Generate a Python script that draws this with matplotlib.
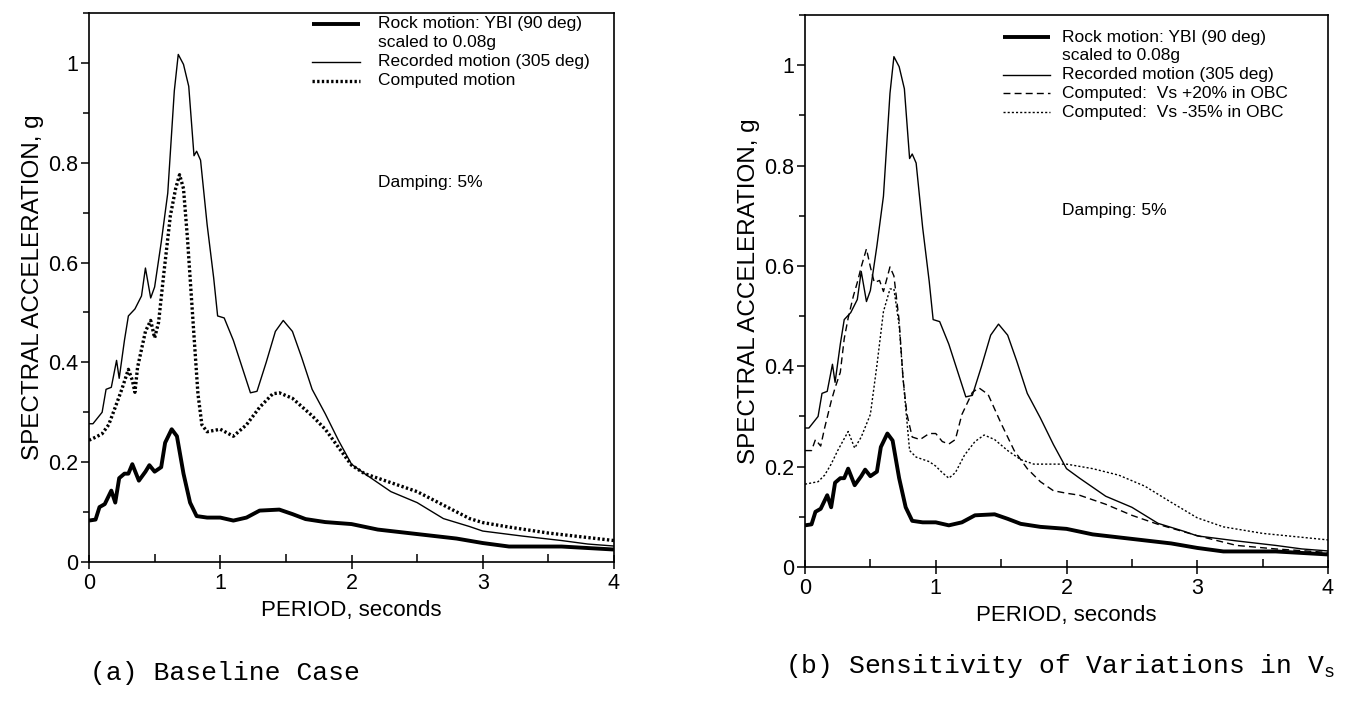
import matplotlib
matplotlib.use("Agg")
import matplotlib.pyplot as plt
from matplotlib.ticker import MultipleLocator, FixedLocator

plt.rcParams['font.family'] = ['Liberation Sans', 'DejaVu Sans']

# Rock motion: YBI (90 deg) scaled to 0.08g
rock_T = [0, 0.05, 0.08, 0.12, 0.17, 0.2, 0.23, 0.27, 0.3, 0.33, 0.38, 0.43, 0.46, 0.5,
          0.55, 0.58, 0.63, 0.67, 0.72, 0.77, 0.82, 0.9, 1.0, 1.1, 1.2, 1.3, 1.45, 1.55,
          1.65, 1.8, 2.0, 2.2, 2.5, 2.8, 3.0, 3.2, 3.6, 4.0]
rock_Sa = [0.083, 0.085, 0.11, 0.116, 0.143, 0.119, 0.168, 0.177, 0.177, 0.196, 0.163,
           0.181, 0.194, 0.181, 0.19, 0.239, 0.266, 0.252, 0.177, 0.119, 0.092, 0.089,
           0.089, 0.083, 0.089, 0.103, 0.105, 0.096, 0.086, 0.080, 0.076, 0.065, 0.056,
           0.047, 0.038, 0.031, 0.031, 0.025]

# Recorded motion (305 deg)
rec_T = [0, 0.03, 0.1, 0.13, 0.17, 0.21, 0.23, 0.27, 0.3, 0.35, 0.4, 0.43, 0.47, 0.5,
         0.55, 0.6, 0.65, 0.68, 0.72, 0.76, 0.8, 0.82, 0.85, 0.9, 0.95, 0.98, 1.03, 1.1,
         1.23, 1.28, 1.35, 1.42, 1.48, 1.55, 1.62, 1.7, 1.8, 1.9, 2.0, 2.1, 2.2, 2.3,
         2.5, 2.7, 2.9, 3.0, 3.3, 3.6, 3.8, 4.0]
rec_Sa = [0.277, 0.277, 0.30, 0.346, 0.35, 0.404, 0.368, 0.444, 0.493, 0.507, 0.533,
          0.589, 0.529, 0.551, 0.64, 0.739, 0.944, 1.017, 0.997, 0.953, 0.814, 0.823,
          0.805, 0.676, 0.569, 0.493, 0.489, 0.444, 0.339, 0.342, 0.40, 0.462, 0.484,
          0.462, 0.41, 0.346, 0.297, 0.244, 0.196, 0.177, 0.159, 0.141, 0.119, 0.087,
          0.071, 0.062, 0.052, 0.043, 0.036, 0.032]

# Computed motion (baseline)
comp_T = [0, 0.05, 0.1, 0.15, 0.2, 0.25, 0.3, 0.33, 0.35, 0.37, 0.43, 0.47, 0.5, 0.53,
          0.57, 0.62, 0.66, 0.69, 0.72, 0.75, 0.8, 0.83, 0.86, 0.9, 1.0, 1.05, 1.1, 1.2,
          1.3, 1.4, 1.45, 1.55, 1.7, 1.8, 1.9, 2.0, 2.1, 2.2, 2.3, 2.5, 2.7, 2.9, 3.0,
          3.2, 3.5, 3.8, 4.0]
comp_Sa = [0.244, 0.25, 0.257, 0.275, 0.31, 0.346, 0.386, 0.364, 0.34, 0.39, 0.462,
           0.484, 0.449, 0.48, 0.578, 0.694, 0.748, 0.776, 0.748, 0.649, 0.453, 0.337,
           0.275, 0.261, 0.266, 0.259, 0.252, 0.275, 0.31, 0.337, 0.339, 0.328, 0.293,
           0.266, 0.230, 0.194, 0.177, 0.168, 0.159, 0.141, 0.114, 0.087, 0.079, 0.070,
           0.058, 0.049, 0.043]

# Computed: Vs +20% in OBC
up_T = [0, 0.05, 0.08, 0.12, 0.15, 0.2, 0.23, 0.27, 0.3, 0.33, 0.37, 0.4, 0.43, 0.47,
        0.5, 0.53, 0.57, 0.6, 0.65, 0.68, 0.72, 0.75, 0.78, 0.82, 0.88, 0.95, 1.0, 1.05,
        1.1, 1.15, 1.2, 1.28, 1.33, 1.4, 1.5, 1.6, 1.7, 1.8, 1.9, 2.0, 2.1, 2.3, 2.5,
        2.7, 3.0, 3.3, 3.6, 4.0]
up_Sa = [0.232, 0.232, 0.254, 0.241, 0.277, 0.33, 0.357, 0.388, 0.455, 0.496, 0.54,
         0.567, 0.598, 0.634, 0.598, 0.567, 0.571, 0.549, 0.598, 0.58, 0.491, 0.375,
         0.304, 0.259, 0.254, 0.266, 0.266, 0.25, 0.245, 0.254, 0.304, 0.348, 0.357,
         0.344, 0.286, 0.232, 0.196, 0.17, 0.152, 0.147, 0.143, 0.125, 0.103, 0.085,
         0.0625, 0.043, 0.036, 0.029]

# Computed: Vs -35% in OBC
dn_T = [0, 0.1, 0.15, 0.2, 0.25, 0.33, 0.38, 0.43, 0.5, 0.55, 0.6, 0.65, 0.68, 0.72,
        0.75, 0.8, 0.85, 0.95, 1.0, 1.05, 1.1, 1.15, 1.22, 1.3, 1.37, 1.45, 1.55, 1.65,
        1.75, 2.0, 2.2, 2.4, 2.6, 2.8, 3.0, 3.2, 3.5, 4.0]
dn_Sa = [0.165, 0.17, 0.183, 0.205, 0.232, 0.27, 0.237, 0.259, 0.304, 0.402, 0.509,
         0.554, 0.554, 0.482, 0.375, 0.232, 0.219, 0.21, 0.201, 0.188, 0.177, 0.188,
         0.223, 0.25, 0.263, 0.254, 0.232, 0.214, 0.205, 0.205, 0.196, 0.183, 0.161,
         0.129, 0.098, 0.08, 0.067, 0.054]

x_ticks = [0, 1, 2, 3, 4]
y_ticks = [0, 0.2, 0.4, 0.6, 0.8, 1.0]
y_ticklabels = ['0', '0.2', '0.4', '0.6', '0.8', '1']

W, H = 1349, 701
fig = plt.figure(figsize=(W / 100, H / 100), dpi=100)
fig.patch.set_facecolor('white')


def px_axes(x0, y0, x1, y1):
    return fig.add_axes([x0 / W, 1 - y1 / H, (x1 - x0) / W, (y1 - y0) / H])


axL = px_axes(89, 13, 614, 562)
axR = px_axes(805, 15, 1328, 567)

styles = {
    'rock': dict(color='black', lw=2.8, solid_capstyle='butt'),
    'rec': dict(color='black', lw=1.0),
    'comp': dict(color='black', lw=2.4, linestyle=(0, (0.7, 0.7))),
    'up': dict(color='black', lw=1.0, linestyle=(0, (5, 3))),
    'dn': dict(color='black', lw=1.0, linestyle=(0, (1.5, 1.5))),
}


def style_axes(ax):
    ax.set_xlim(0, 4)
    ax.set_ylim(0, 1.1)
    ax.xaxis.set_major_locator(FixedLocator(x_ticks))
    ax.xaxis.set_minor_locator(MultipleLocator(0.5))
    ax.yaxis.set_major_locator(FixedLocator(y_ticks))
    ax.set_yticklabels(y_ticklabels)
    ax.yaxis.set_minor_locator(MultipleLocator(0.1))
    ax.tick_params(axis='x', which='major', direction='inout', length=10, width=1.1,
                   labelsize=15.5, pad=3)
    ax.tick_params(axis='x', which='minor', direction='in', length=6, width=1.1)
    ax.tick_params(axis='y', which='major', direction='out', length=6, width=1.1,
                   labelsize=15.5, pad=2)
    ax.tick_params(axis='y', which='minor', direction='out', length=4, width=1.1)
    for s in ax.spines.values():
        s.set_linewidth(1.2)
    ax.set_xlabel('PERIOD, seconds', fontsize=16, labelpad=4)
    ax.set_ylabel('SPECTRAL ACCELERATION, g', fontsize=17.5, labelpad=3)


def legend_rows(ax, rows, x_line, x_text, y_top, dy):
    y = y_top
    for key, label in rows:
        if key is not None:
            ax.plot(x_line, [y, y], transform=ax.transAxes, clip_on=False, **styles[key])
        ax.text(x_text, y, label, transform=ax.transAxes, fontsize=12.5,
                va='center', ha='left')
        y -= dy


# (a) baseline
style_axes(axL)
axL.plot(rock_T, rock_Sa, **styles['rock'])
axL.plot(rec_T, rec_Sa, **styles['rec'])
axL.plot(comp_T, comp_Sa, **styles['comp'])
legend_rows(axL, [('rock', 'Rock motion: YBI (90 deg)'), (None, 'scaled to 0.08g'),
                  ('rec', 'Recorded motion (305 deg)'), ('comp', 'Computed motion')],
            [0.425, 0.516], 0.55, 0.980, 0.0345)
axL.text(0.55, 0.692, 'Damping: 5%', transform=axL.transAxes, fontsize=12.5,
         va='center', ha='left')

# (b) Vs sensitivity
style_axes(axR)
axR.plot(rock_T, rock_Sa, **styles['rock'])
axR.plot(rec_T, rec_Sa, **styles['rec'])
axR.plot(up_T, up_Sa, **styles['up'])
axR.plot(dn_T, dn_Sa, **styles['dn'])
legend_rows(axR, [('rock', 'Rock motion: YBI (90 deg)'), (None, 'scaled to 0.08g'),
                  ('rec', 'Recorded motion (305 deg)'),
                  ('up', 'Computed:  Vs +20% in OBC'),
                  ('dn', 'Computed:  Vs -35% in OBC')],
            [0.379, 0.468], 0.491, 0.960, 0.0340)
axR.text(0.491, 0.645, 'Damping: 5%', transform=axR.transAxes, fontsize=12.5,
         va='center', ha='left')

fig.text(90 / W, 1 - 673 / H, '(a) Baseline Case', family='Liberation Mono',
         fontsize=19, va='center', ha='left')
fig.text(785 / W, 1 - 666 / H, r'(b) Sensitivity of Variations in V$_\mathregular{s}$',
         family='Liberation Mono', fontsize=19, va='center', ha='left')

fig.savefig('out.png', dpi=100, facecolor='white')
